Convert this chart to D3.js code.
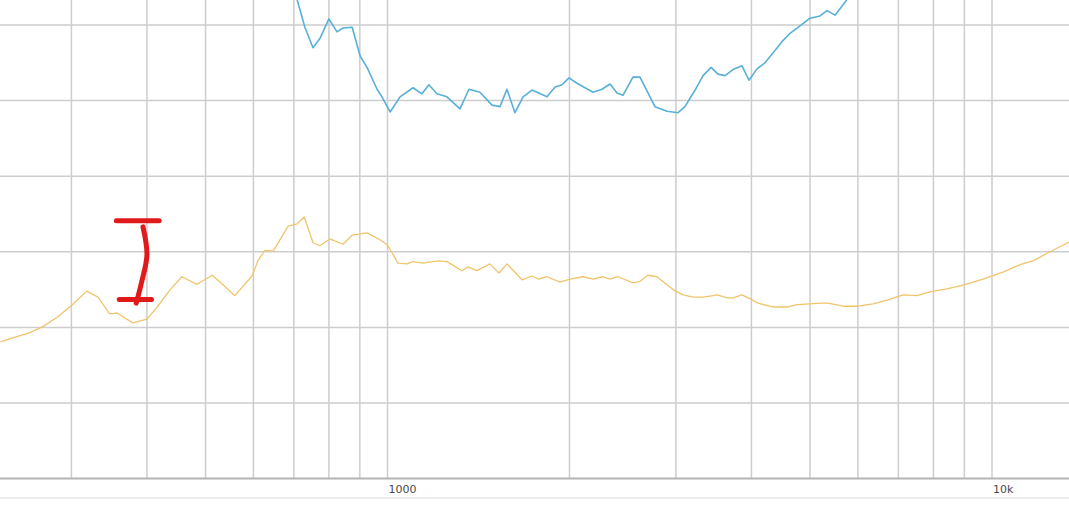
<!DOCTYPE html>
<html>
<head>
<meta charset="utf-8">
<script src="https://cdn.jsdelivr.net/npm/d3@7"></script>
<style>
  html, body { margin: 0; padding: 0; background: #ffffff; overflow: hidden; }
  svg { display: block; }
</style>
</head>
<body>
<svg id="chart" width="1069" height="528"></svg>
<script>
// ---- Data (frequency in Hz, level in dB) ----
const orangeFreq = [229, 240, 256, 269, 285, 301, 318, 332, 347, 357, 379, 400, 416, 437, 457, 484, 513, 535, 559, 597, 611, 627, 647, 685, 709, 728, 753, 773, 803, 844, 874, 925, 972, 1000, 1041, 1077, 1102, 1145, 1212, 1254, 1328, 1359, 1406, 1477, 1529, 1576, 1669, 1734, 1774, 1836, 1929, 2004, 2106, 2188, 2264, 2334, 2406, 2547, 2616, 2697, 2791, 2968, 3083, 3203, 3327, 3456, 3509, 3645, 3729, 3858, 3978, 4101, 4342, 4597, 4758, 5000, 5194, 5355, 5669, 6002, 6356, 6706, 7125, 7515, 7897, 8425, 8954, 9663, 10428, 11126, 11688, 12474, 13411];
const orangeDb = [38.1, 38.6, 39.3, 40.1, 41.4, 43.0, 44.8, 44.0, 41.8, 41.9, 40.6, 41.1, 42.7, 45.0, 46.7, 45.7, 46.9, 45.6, 44.2, 46.8, 48.9, 50.2, 50.1, 53.4, 53.7, 54.6, 51.2, 50.8, 51.7, 51.0, 52.2, 52.5, 51.6, 50.9, 48.5, 48.4, 48.7, 48.5, 48.8, 48.7, 47.5, 48.0, 47.5, 48.4, 47.2, 48.4, 46.3, 46.8, 46.4, 46.7, 46.0, 46.4, 46.7, 46.4, 46.7, 46.4, 46.7, 45.9, 46.1, 46.9, 46.7, 45.0, 44.3, 44.0, 44.0, 44.2, 44.3, 43.9, 43.9, 44.3, 43.8, 43.2, 42.7, 42.7, 43.0, 43.1, 43.2, 43.2, 42.8, 42.8, 43.1, 43.6, 44.3, 44.2, 44.7, 45.1, 45.6, 46.4, 47.3, 48.3, 48.8, 50.0, 51.3];

const blueFreq = [700, 709, 730, 753, 773, 800, 825, 844, 874, 901, 925, 961, 979, 1010, 1049, 1102, 1140, 1171, 1207, 1254, 1318, 1364, 1422, 1489, 1535, 1576, 1625, 1676, 1734, 1836, 1893, 1944, 1996, 2058, 2188, 2264, 2334, 2397, 2452, 2547, 2616, 2770, 2900, 3024, 3105, 3227, 3327, 3430, 3522, 3617, 3729, 3858, 3963, 4085, 4211, 4342, 4494, 4633, 4777, 5000, 5194, 5334, 5500, 5712, 5866];
const blueDb = [85.3, 83.3, 79.7, 77.0, 78.2, 80.8, 79.1, 79.6, 79.7, 75.9, 74.4, 71.5, 70.5, 68.5, 70.5, 71.7, 70.9, 72.1, 70.9, 70.5, 68.9, 71.5, 71.1, 69.4, 69.2, 71.5, 68.4, 70.5, 71.4, 70.5, 71.8, 72.1, 73.0, 72.3, 71.1, 71.5, 72.2, 71.0, 70.7, 73.1, 73.1, 69.2, 68.6, 68.4, 69.2, 71.4, 73.3, 74.4, 73.5, 73.3, 74.1, 74.6, 72.7, 74.2, 75.0, 76.3, 77.8, 78.9, 79.7, 80.9, 81.2, 81.9, 81.3, 83.0, 84.4];

const vGridFreqs = [300, 400, 500, 600, 700, 800, 900, 1000, 2000, 3000, 4000, 5000, 6000, 7000, 8000, 9000, 10000];
const hGridDb = [30, 40, 50, 60, 70, 80];
const tickLabels = [{ f: 1000, label: "1000" }, { f: 10000, label: "10k" }];

// hand-drawn red annotation (frequency, dB)
const markTopFreq = [356, 419];
const markTopDb = [54.1, 54.1];
const markStemFreq = [394, 400, 392, 384];
const markStemDb = [53.3, 49.6, 46.0, 43.2];
const markBottomFreq = [360, 407];
const markBottomDb = [43.7, 43.7];

// ---- Chart ----
const W = 1069, H = 528;
const svg = d3.select("#chart");

const x = d3.scaleLog().domain([1000, 10000]).range([387.5, 992]);
const y = d3.scaleLinear().domain([20, 80]).range([478.6, 25]);
const plotBottom = y(20);

svg.append("rect").attr("width", W).attr("height", H).attr("fill", "#ffffff");

const defs = svg.append("defs");
defs.append("clipPath").attr("id", "plotclip")
  .append("rect").attr("x", 0).attr("y", 0).attr("width", W).attr("height", plotBottom);

// grid
const grid = svg.append("g");
grid.selectAll("line.v").data(vGridFreqs).enter().append("line")
  .attr("x1", d => x(d)).attr("x2", d => x(d))
  .attr("y1", 0).attr("y2", plotBottom)
  .attr("stroke", "#cdcdcd").attr("stroke-width", 1.5);
grid.selectAll("line.h").data(hGridDb).enter().append("line")
  .attr("x1", 0).attr("x2", W)
  .attr("y1", d => y(d)).attr("y2", d => y(d))
  .attr("stroke", "#cdcdcd").attr("stroke-width", 1.5);

// axis baseline
svg.append("line").attr("x1", 0).attr("x2", W)
  .attr("y1", plotBottom).attr("y2", plotBottom)
  .attr("stroke", "#b4b4b4").attr("stroke-width", 2);

// faint lower band
svg.append("line").attr("x1", 0).attr("x2", W)
  .attr("y1", 498).attr("y2", 498)
  .attr("stroke", "#eeeeee").attr("stroke-width", 2);

// tick labels
svg.selectAll("text.tick").data(tickLabels).enter().append("text")
  .attr("x", d => x(d.f) + 1).attr("y", 493)
  .attr("font-family", "DejaVu Sans, Verdana, sans-serif")
  .attr("font-size", 11)
  .attr("fill", "#4a4a4a")
  .text(d => d.label);

// curves
const line = d3.line().x(d => x(d[0])).y(d => y(d[1]));
const plot = svg.append("g").attr("clip-path", "url(#plotclip)");

plot.append("path")
  .datum(orangeFreq.map((f, i) => [f, orangeDb[i]]))
  .attr("d", line).attr("fill", "none")
  .attr("stroke", "#f0c46c").attr("stroke-width", 1.3)
  .attr("stroke-linejoin", "round");

plot.append("path")
  .datum(blueFreq.map((f, i) => [f, blueDb[i]]))
  .attr("d", line).attr("fill", "none")
  .attr("stroke", "#58b0d8").attr("stroke-width", 1.6)
  .attr("stroke-linejoin", "round");

// red annotation
const curve = d3.line().x(d => x(d[0])).y(d => y(d[1])).curve(d3.curveCatmullRom);
const mark = svg.append("g").attr("fill", "none").attr("stroke", "#e0191b")
  .attr("stroke-width", 5).attr("stroke-linecap", "round").attr("stroke-linejoin", "round");
mark.append("path").datum(markTopFreq.map((f, i) => [f, markTopDb[i]])).attr("d", line);
mark.append("path").datum(markStemFreq.map((f, i) => [f, markStemDb[i]])).attr("d", curve);
mark.append("path").datum(markBottomFreq.map((f, i) => [f, markBottomDb[i]])).attr("d", line);
</script>
</body>
</html>
